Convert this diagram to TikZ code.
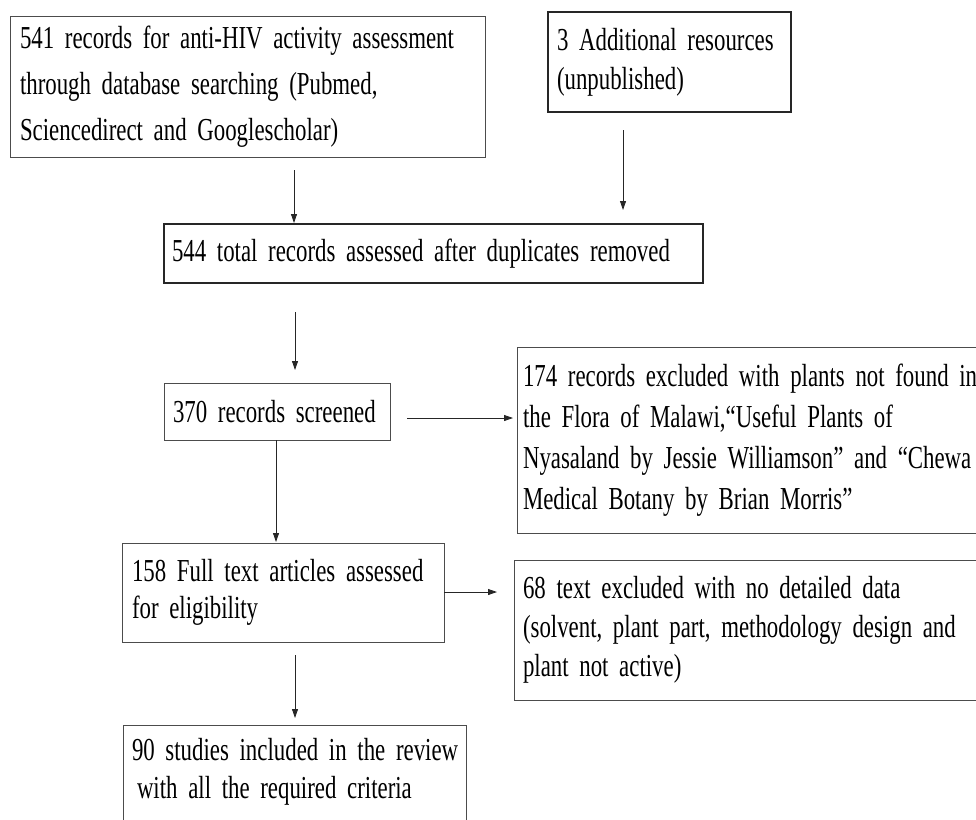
\documentclass[tikz,border=0pt]{standalone}
\usepackage{fontspec}
\setmainfont{Liberation Serif}[FakeStretch=0.714]
\usetikzlibrary{arrows.meta}
\begin{document}
\begin{tikzpicture}[x=1pt,y=-1pt,
  box/.style={draw=black!70, line width=1pt, anchor=north west, align=left,
    inner ysep=0pt, outer sep=0pt},
  boldbox/.style={box, draw=black!85, line width=1.6pt},
  arr/.style={draw=black!85, line width=0.8pt, -{Triangle[length=9pt,width=6pt]}}]
\useasboundingbox (0,0) rectangle (976,819);
\clip (0,0) rectangle (976,819);

\coordinate (xa) at (294,0);
\coordinate (xb) at (623,0);
\coordinate (xc) at (295,0);
\coordinate (xd) at (276,0);
\coordinate (ya) at (0,418);
\coordinate (yb) at (0,592);

\node[box, font=\fontsize{32}{46}\selectfont, inner xsep=10pt, text width=455pt,
  minimum height=141pt] (n541) at (10,16)
  {\mbox{541 records for anti-HIV activity assessment}\\\mbox{through database searching (Pubmed,}\\\mbox{Sciencedirect and Googlescholar)}};

\node[boldbox, font=\fontsize{32}{39}\selectfont, inner xsep=9pt, text width=225pt,
  minimum height=100pt] (n3) at (548,12)
  {\mbox{3 Additional resources}\\\mbox{(unpublished)}};

\node[boldbox, font=\fontsize{32}{40}\selectfont, inner xsep=8pt, text width=523pt,
  minimum height=59pt] (n544) at (164,224)
  {\mbox{544 total records assessed after duplicates removed}};

\node[box, font=\fontsize{32}{40}\selectfont, inner xsep=9pt, text width=208pt,
  minimum height=57pt] (n370) at (164,383)
  {\mbox{370 records screened}};

\node[box, font=\fontsize{32}{41}\selectfont, inner xsep=6pt, text width=470pt,
  minimum height=186pt] (n174) at (517,347)
  {\mbox{174 records excluded with plants not found in}\\\mbox{the Flora of Malawi,“Useful Plants of}\\\mbox{Nyasaland by Jessie Williamson” and “Chewa}\\\mbox{Medical Botany by Brian Morris”}};

\node[box, font=\fontsize{32}{37}\selectfont, inner xsep=10pt, text width=302pt,
  minimum height=99pt] (n158) at (122,543)
  {\mbox{158 Full text articles assessed}\\\mbox{for eligibility}};

\node[box, font=\fontsize{32}{39}\selectfont, inner xsep=9pt, text width=470pt,
  minimum height=140pt] (n68) at (514,560)
  {\mbox{68 text excluded with no detailed data}\\\mbox{(solvent, plant part, methodology design and}\\\mbox{plant not active)}};

\node[box, font=\fontsize{32}{38}\selectfont, inner xsep=9pt, text width=325pt,
  inner ysep=13pt, text height=22pt, text depth=100pt] (n90) at (123,725)
  {\mbox{90 studies included in the review}\\\mbox{\hspace*{5pt}with all the required criteria}};

\draw[arr, shorten <=13pt, shorten >=1pt] (n541.south -| xa) -- (n544.north -| xa);
\draw[arr, shorten <=18pt, shorten >=14pt] (n3.south -| xb) -- (n544.north -| xb);
\draw[arr, shorten <=29pt, shorten >=13pt] (n544.south -| xc) -- (n370.north -| xc);
\draw[arr, shorten <=17pt, shorten >=4pt] (n370.east |- ya) -- (n174.west |- ya);
\draw[arr, shorten >=1pt] (n370.south -| xd) -- (n158.north -| xd);
\draw[arr, shorten >=17pt] (n158.east |- yb) -- (n68.west |- yb);
\draw[arr, shorten <=13pt, shorten >=7pt] (n158.south -| xc) -- (n90.north -| xc);
\end{tikzpicture}
\end{document}
